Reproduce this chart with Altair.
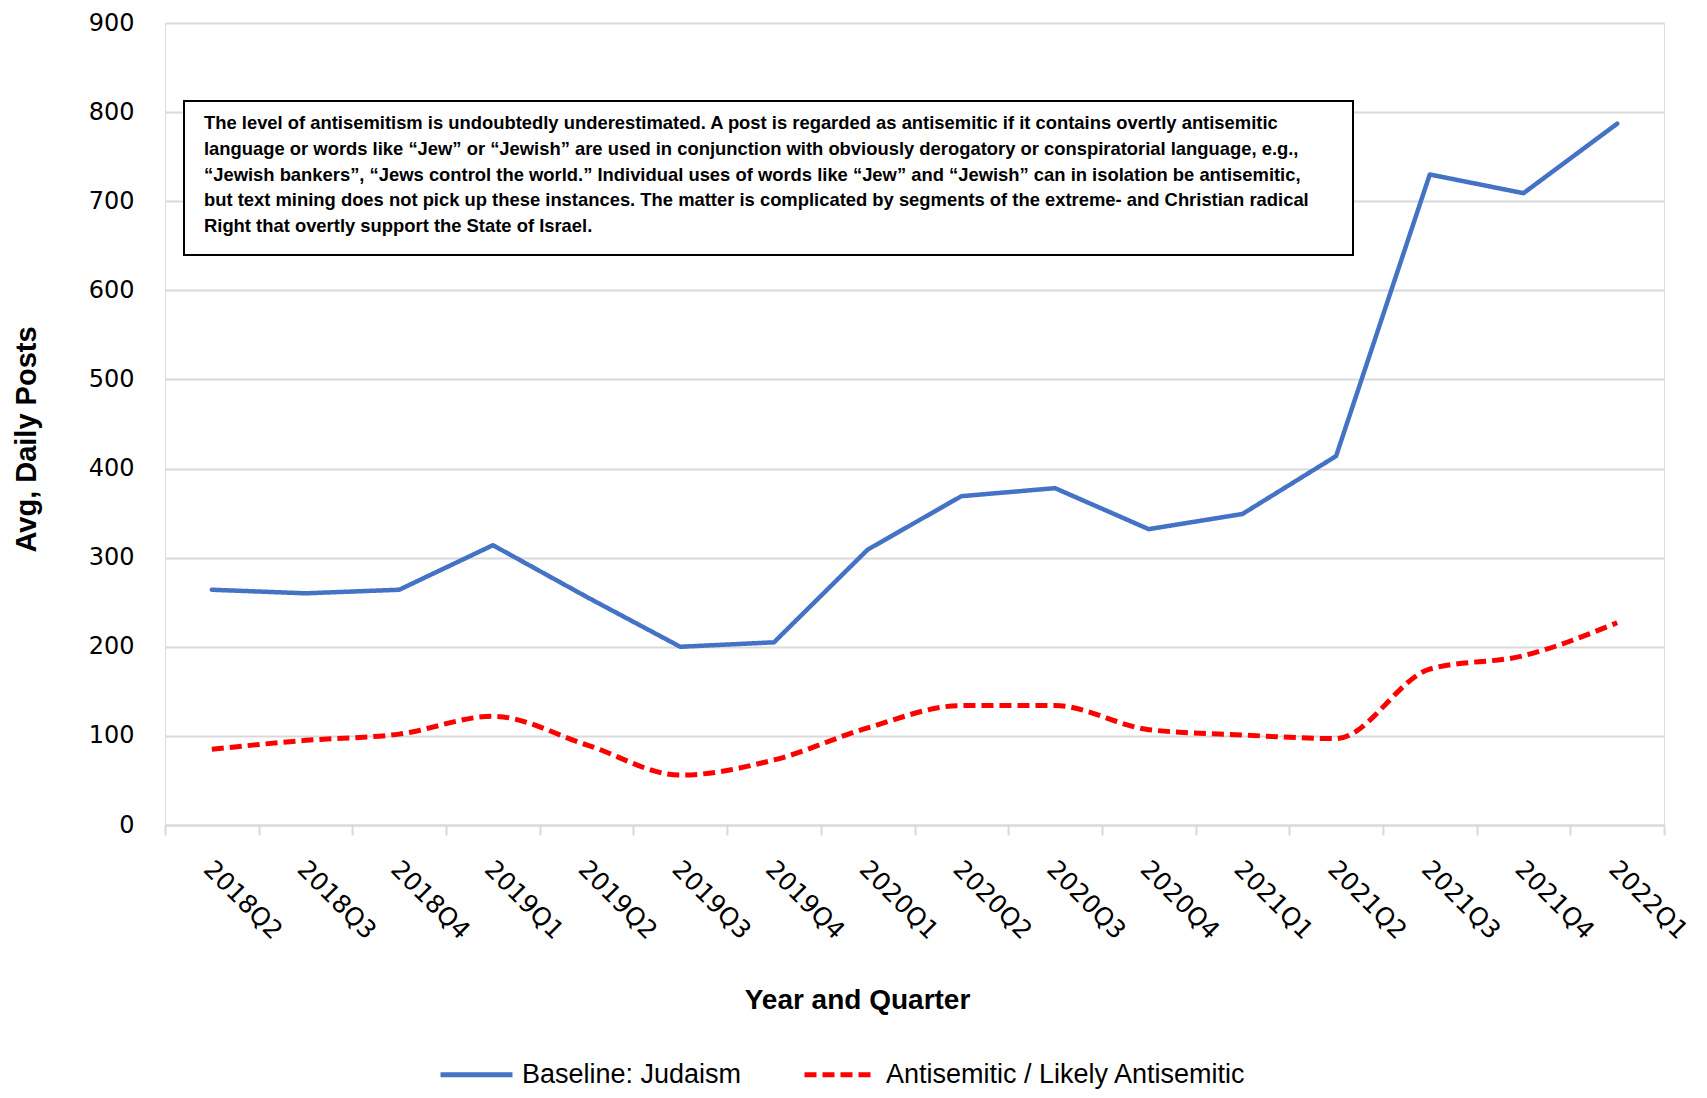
import altair as alt
import pandas as pd

quarters = ["2018Q2", "2018Q3", "2018Q4", "2019Q1", "2019Q2", "2019Q3", "2019Q4", "2020Q1",
            "2020Q2", "2020Q3", "2020Q4", "2021Q1", "2021Q2", "2021Q3", "2021Q4", "2022Q1"]
baseline = [264, 260, 264, 314, 256, 200, 205, 309, 369, 378, 332, 349, 414, 730, 709, 787]
antisemitic = [85, 95, 102, 122, 90, 56, 73, 109, 134, 134, 107, 101, 97, 175, 190, 227]
series_names = ["Baseline: Judaism", "Antisemitic / Likely Antisemitic"]
series_colors = ["#4472C4", "#FF0000"]
series_dash = [[1, 0], [12, 6]]
y_ticks = [0, 100, 200, 300, 400, 500, 600, 700, 800, 900]
note_lines = [
    "The level of antisemitism is undoubtedly underestimated. A post is regarded as antisemitic if it contains overtly antisemitic",
    "language or words like \u201cJew\u201d or \u201cJewish\u201d are used in conjunction with obviously derogatory or conspiratorial language, e.g.,",
    "\u201cJewish bankers\u201d, \u201cJews control the world.\u201d Individual uses of words like \u201cJew\u201d and \u201cJewish\u201d can in isolation be antisemitic,",
    "but text mining does not pick up these instances. The matter is complicated by segments of the extreme- and Christian radical",
    "Right that overtly support the State of Israel.",
]

rows = []
for q, v in zip(quarters, baseline):
    rows.append({"quarter": q, "value": v, "series": series_names[0]})
for q, v in zip(quarters, antisemitic):
    rows.append({"quarter": q, "value": v, "series": series_names[1]})
df = pd.DataFrame(rows)

FONT = "Liberation Sans, Arial, sans-serif"

x_enc = alt.X(
    "quarter:N",
    sort=quarters,
    bandPosition=0.5,
    scale=alt.Scale(type="band", paddingInner=0, paddingOuter=0),
    axis=alt.Axis(
        title="Year and Quarter",
        titleFont=FONT, titleFontSize=28, titleFontWeight="bold", titleColor="black",
        titleX=692, titleY=175, titleAlign="center", titleBaseline="middle",
        tickBand="extent", grid=False,
        domainColor="#d9d9d9", domainWidth=2,
        tickColor="#d9d9d9", tickWidth=2, tickSize=10,
        labelAngle=45, labelAlign="left", labelBaseline="top", labelPadding=21,
        labelOffset=4,
        labelFont="DejaVu Sans", labelFontSize=25, labelColor="black",
    ),
)
y_enc = alt.Y(
    "value:Q",
    scale=alt.Scale(domain=[0, 900], nice=False),
    axis=alt.Axis(
        title="Avg, Daily Posts",
        titleFont=FONT, titleFontSize=29, titleFontWeight="bold", titleColor="black",
        titleX=-139, titleY=416, titleAngle=270, titleAlign="center", titleBaseline="middle",
        values=y_ticks, grid=True, gridColor="#d9d9d9", gridWidth=2,
        domain=False, ticks=False, labelPadding=31,
        labelFont="DejaVu Sans", labelFontSize=24, labelColor="black",
    ),
)
color_enc = alt.Color(
    "series:N",
    scale=alt.Scale(domain=series_names, range=series_colors),
    legend=alt.Legend(
        title=None, orient="none", legendX=273, legendY=1013, direction="horizontal",
        symbolType="stroke", symbolSize=5184, symbolStrokeWidth=5,
        labelFont=FONT, labelFontSize=27, labelColor="black", labelOffset=7,
        labelLimit=600, columnPadding=52,
    ),
)
dash_enc = alt.StrokeDash(
    "series:N",
    scale=alt.Scale(domain=series_names, range=series_dash),
    legend=None,
)

blue = alt.Chart(df).transform_filter(
    alt.datum.series == series_names[0]
).mark_line(strokeWidth=4.5, strokeCap="round", strokeJoin="round").encode(
    x=x_enc, y=y_enc, color=color_enc, strokeDash=dash_enc
)
red = alt.Chart(df).transform_filter(
    alt.datum.series == series_names[1]
).mark_line(strokeWidth=5, interpolate="monotone").encode(
    x=x_enc, y=y_enc, color=color_enc, strokeDash=dash_enc
)

note_df = pd.DataFrame({"note": [note_lines]})
box = alt.Chart(note_df).mark_rect(fill="white", stroke="black", strokeWidth=2).encode(
    x=alt.value(19), x2=alt.value(1188), y=alt.value(78), y2=alt.value(232)
)
note = alt.Chart(note_df).mark_text(
    align="left", baseline="middle", font=FONT, fontSize=18.4, fontWeight="bold",
    lineHeight=25.75, color="black",
).encode(
    x=alt.value(39), y=alt.value(100), text="note"
)

chart = alt.layer(blue, red, box, note).properties(
    width=1499, height=802,
    autosize=alt.AutoSizeParams(type="none"),
    padding={"left": 157, "top": 15, "right": 33, "bottom": 265},
).configure_view(stroke=None).configure(background="white")

chart.save("out.html", embed_options={"renderer": "svg", "actions": False})
